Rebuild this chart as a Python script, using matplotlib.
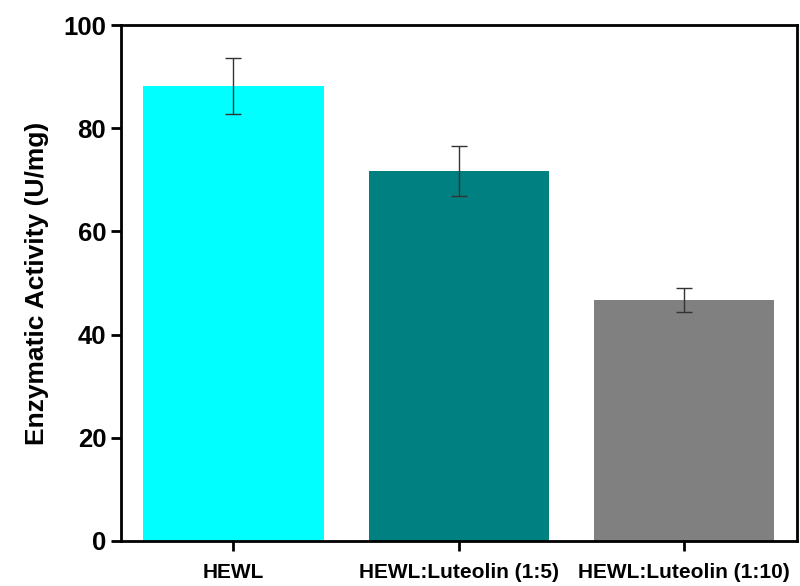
import matplotlib
matplotlib.use('Agg')
import matplotlib.pyplot as plt

# Data
groups = ['HEWL', 'HEWL:Luteolin (1:5)', 'HEWL:Luteolin (1:10)']
activity = [88.2, 71.7, 46.7]
errors = [5.4, 4.8, 2.4]
colors = ['#00FFFF', '#008080', '#808080']

plt.rcParams['font.family'] = ['Liberation Sans', 'DejaVu Sans']

fig = plt.figure(figsize=(8, 5.86), dpi=100)
ax = fig.add_axes([0.151, 0.077, 0.845, 0.880])

x = list(range(len(groups)))
ax.bar(x, activity, width=0.8, color=colors,
       yerr=errors, capsize=6,
       error_kw=dict(ecolor='#333333', elinewidth=1, capthick=1))

ax.set_xlim(-0.5, 2.5)
ax.set_ylim(0, 100)
ax.set_yticks([0, 20, 40, 60, 80, 100])
ax.set_xticks(x)
ax.set_xticklabels(groups, fontsize=15, fontweight='bold')
for lab in ax.get_yticklabels():
    lab.set_fontsize(18.5)
    lab.set_fontweight('bold')
ax.set_ylabel('Enzymatic Activity (U/mg)', fontsize=19, fontweight='bold', labelpad=10)

for s in ax.spines.values():
    s.set_linewidth(2)
ax.tick_params(axis='both', direction='out', width=2, length=7)
ax.tick_params(axis='x', pad=9)

plt.savefig('out.png', dpi=100)
